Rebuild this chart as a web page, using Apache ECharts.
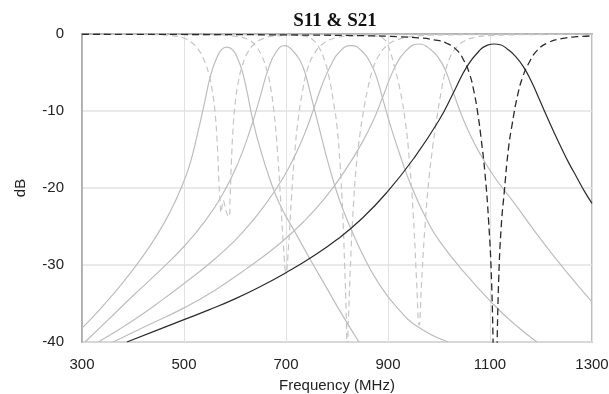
<!DOCTYPE html>
<html>
<head>
<meta charset="utf-8">
<script src="https://cdn.jsdelivr.net/npm/echarts@6/dist/echarts.min.js"></script>
<style>
html,body{margin:0;padding:0;background:#fff;}
#c{width:609px;height:394px;}
</style>
</head>
<body>
<div id="c"></div>
<script>
// Tick labels
const xTicks = [300, 500, 700, 900, 1100, 1300];
const yTicks = [-40, -30, -20, -10, 0];

// S21 (solid) per filter: [MHz, dB]
const s21_f1 = [[300,-38.2],[340,-35.4],[380,-32.3],[420,-28.8],[450,-25.8],[475,-22.8],[495,-19.9],[512,-16.8],[527,-12.8],[540,-9.0],[552,-5.4],[563,-3.3],[574,-2.0],[584,-1.7],[596,-2.1],[606,-3.3],[614,-4.8],[623,-7.3],[636,-11.5],[650,-15.0],[666,-18.4],[687,-22.0],[720,-26.0],[752,-29.8],[780,-33.0],[805,-35.9],[843,-40]];
const s21_f2 = [[306,-40],[350,-37.2],[400,-34.0],[450,-30.9],[500,-27.6],[540,-24.4],[575,-20.9],[605,-16.9],[630,-12.4],[650,-8.0],[665,-4.6],[680,-2.4],[698,-1.5],[715,-2.3],[728,-3.5],[738,-5.2],[750,-8.3],[765,-12.2],[785,-17.3],[805,-21.6],[828,-25.4],[850,-28.6],[880,-32.2],[916,-35.4],[960,-38.1],[1018,-40]];
const s21_f3 = [[332,-40],[400,-37.2],[460,-34.4],[502,-32.3],[550,-29.8],[600,-26.8],[640,-23.8],[680,-20.2],[710,-16.8],[735,-13.2],[755,-9.6],[772,-6.4],[787,-4.2],[805,-2.3],[828,-1.5],[850,-2.3],[865,-3.7],[877,-5.5],[890,-8.5],[903,-11.5],[925,-16.0],[946,-19.8],[975,-24.0],[1000,-26.8],[1050,-31.0],[1108,-35.2],[1150,-37.8],[1192,-40]];
const s21_f4 = [[361,-40],[430,-37.8],[502,-35.5],[560,-33.3],[620,-30.6],[688,-27.2],[740,-24.0],[780,-21.0],[815,-17.8],[845,-14.6],[870,-11.4],[892,-7.8],[912,-4.5],[935,-2.2],[961,-1.3],[985,-2.1],[1000,-3.2],[1012,-4.6],[1025,-7.0],[1040,-9.8],[1055,-12.2],[1080,-15.5],[1110,-18.7],[1148,-22.0],[1200,-26.7],[1250,-30.9],[1300,-34.8]];
const s21_f5 = [[388,-40],[450,-38.4],[500,-37.1],[550,-35.8],[600,-34.4],[650,-32.8],[700,-31.0],[750,-29.0],[800,-26.7],[850,-23.9],[900,-20.4],[950,-16.2],[1000,-11.2],[1030,-7.4],[1055,-4.2],[1080,-2.1],[1095,-1.45],[1108,-1.3],[1120,-1.4],[1135,-2.0],[1150,-2.9],[1165,-4.2],[1180,-6.0],[1195,-8.2],[1210,-10.5],[1225,-12.7],[1240,-14.8],[1255,-16.8],[1270,-18.6],[1285,-20.4],[1300,-22.0]];

// S11 (dashed) per filter: [MHz, dB]
const s11_f1 = [[300,-0.03],[440,-0.08],[480,-0.25],[500,-0.55],[515,-1.1],[528,-2.0],[540,-3.5],[549,-5.3],[556,-7.6],[561,-10.3],[565,-14],[568,-18.5],[570.5,-21.5],[572.5,-23.2],[575,-22.2],[577,-21.6],[580,-22.3],[584,-23.3],[588,-23.75],[590.5,-21],[593,-16.5],[596,-12.5],[600,-9.2],[606,-6.4],[614,-4.2],[624,-2.5],[638,-1.3],[655,-0.6],[680,-0.25],[750,-0.1],[1300,-0.03]];
const s11_f2 = [[300,-0.03],[550,-0.1],[600,-0.3],[625,-0.7],[640,-1.5],[652,-2.8],[662,-4.6],[670,-7],[677,-10.5],[683,-15],[689,-21],[695,-27.5],[700,-31],[705,-27.5],[711,-21],[717,-15.5],[724,-11],[732,-7.6],[742,-4.6],[755,-2.6],[772,-1.3],[795,-0.55],[830,-0.25],[900,-0.1],[1300,-0.03]];
const s11_f3 = [[300,-0.03],[700,-0.1],[740,-0.3],[755,-0.9],[766,-1.9],[776,-3.5],[785,-5.8],[793,-8.8],[800,-12],[806,-17],[811,-23],[815,-30],[818,-36],[820,-41],[823,-36],[827,-29],[832,-22.5],[838,-17],[845,-13],[852,-10],[860,-7.2],[870,-4.6],[882,-2.8],[898,-1.5],[920,-0.7],[950,-0.3],[1000,-0.12],[1300,-0.04]];
const s11_f4 = [[300,-0.02],[800,-0.06],[850,-0.12],[875,-0.25],[890,-0.55],[900,-1.5],[912,-4.1],[924,-7.4],[934,-11.4],[942,-16.5],[950,-24],[956,-32],[961,-37.8],[966,-32],[972,-25.5],[980,-19],[988,-14.5],[996,-10.8],[1004,-7.6],[1012,-5.0],[1022,-3.0],[1035,-1.7],[1050,-0.9],[1070,-0.45],[1100,-0.2],[1150,-0.1],[1300,-0.05]];
const s11_f5 = [[300,-0.03],[500,-0.06],[700,-0.12],[850,-0.22],[920,-0.35],[960,-0.5],[990,-0.75],[1015,-1.2],[1035,-2.1],[1050,-3.6],[1060,-5.2],[1068,-7.3],[1076,-10.3],[1083,-13.8],[1090,-18],[1097,-24],[1103,-32],[1110,-48],[1117,-32],[1122,-25],[1128,-20.5],[1136,-15],[1144,-11.5],[1154,-8.0],[1164,-5.6],[1176,-3.8],[1193,-2.1],[1215,-1.1],[1240,-0.6],[1270,-0.35],[1300,-0.25]];

const light = '#bdbdbd';
const lightDash = '#c6c6c6';
const dark = '#2a2a2a';

function line(data, color, w, dash, z) {
  return {type:'line', data:data, showSymbol:false, symbol:'none', smooth:0.5,
    lineStyle:{color:color, width:w, type:dash}, clip:true, silent:true, z:z};
}

const chart = echarts.init(document.getElementById('c'), null, {renderer:'canvas'});
chart.setOption({
  animation:false,
  backgroundColor:'#fff',
  title:{text:'S11 & S21', left:330, top:7, textAlign:'center',
    textStyle:{fontFamily:'Liberation Serif', fontWeight:'bold', fontSize:19, color:'#111'}},
  grid:{left:82, right:17, top:34, bottom:52, outerBoundsMode:'none', containLabel:false,
    show:true, borderColor:'#a8a8a8', borderWidth:1.5, backgroundColor:'transparent'},
  xAxis:{type:'value', min:xTicks[0], max:xTicks[xTicks.length-1], interval:200,
    name:'Frequency (MHz)', nameLocation:'middle', nameGap:36, nameMoveOverlap:false,
    nameTextStyle:{fontFamily:'Liberation Sans', fontSize:15, color:'#222'},
    axisLine:{show:true, lineStyle:{color:'#a8a8a8', width:1.5}},
    axisTick:{show:false},
    axisLabel:{fontFamily:'Liberation Sans', fontSize:15, color:'#222', margin:15, formatter:function(v){return String(v);}},
    splitLine:{show:true, lineStyle:{color:'#e2e2e2', width:1}}},
  yAxis:{type:'value', min:yTicks[0], max:yTicks[yTicks.length-1], interval:10,
    name:'dB', nameLocation:'middle', nameGap:54, nameRotate:90, nameMoveOverlap:false,
    nameTextStyle:{fontFamily:'Liberation Sans', fontSize:15, color:'#222'},
    axisLine:{show:true, lineStyle:{color:'#a8a8a8', width:1.5}},
    axisTick:{show:false},
    axisLabel:{fontFamily:'Liberation Sans', fontSize:15, color:'#222', margin:18},
    splitLine:{show:true, lineStyle:{color:'#e2e2e2', width:1.5}}},
  series:[
    line(s21_f1, light, 1.2, 'solid', 2), line(s11_f1, lightDash, 1.2, [6,4], 2),
    line(s21_f2, light, 1.2, 'solid', 2), line(s11_f2, lightDash, 1.2, [6,4], 2),
    line(s21_f3, light, 1.2, 'solid', 2), line(s11_f3, lightDash, 1.2, [6,4], 2),
    line(s21_f4, light, 1.2, 'solid', 2), line(s11_f4, lightDash, 1.2, [6,4], 2),
    line(s21_f5, dark, 1.2, 'solid', 5), line(s11_f5, dark, 1.3, [7,4], 5)
  ]
});
</script>
</body>
</html>
